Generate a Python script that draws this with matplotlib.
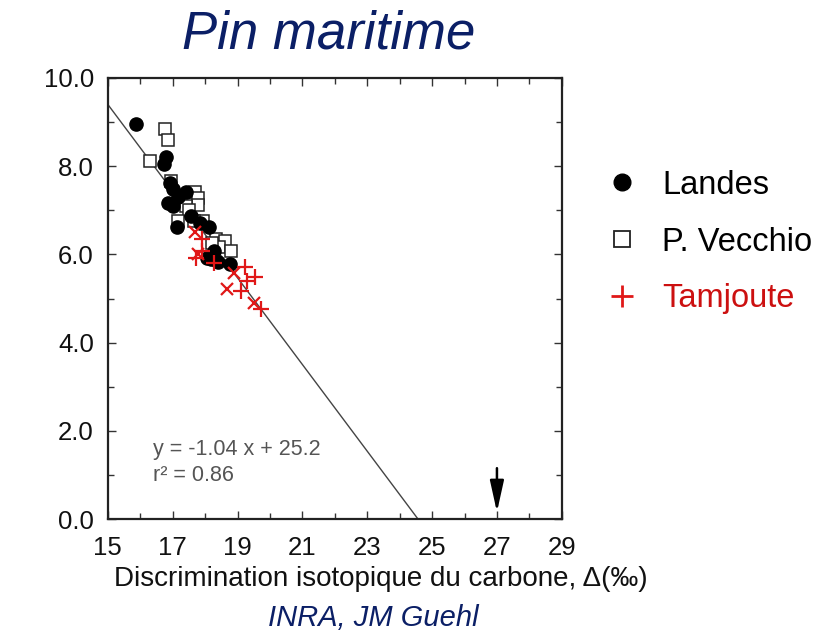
import matplotlib.pyplot as plt
from matplotlib.lines import Line2D
from matplotlib.ticker import MultipleLocator

# Landes (filled circles)
landes_x = [15.86, 16.78, 16.72, 16.91, 17.0, 16.87, 17.0, 17.17, 17.41, 17.14,
            17.56, 17.83, 18.11, 18.06, 18.17, 18.39, 18.78, 18.28]
landes_y = [8.96, 8.21, 8.05, 7.61, 7.49, 7.17, 7.09, 7.30, 7.42, 6.63,
            6.88, 6.72, 6.63, 5.93, 5.89, 5.84, 5.78, 6.09]

# P. Vecchio (open squares)
vecchio_x = [16.76, 16.86, 16.31, 16.94, 17.69, 17.78, 17.78, 17.41, 17.5, 17.17,
             17.94, 17.67, 18.33, 18.61, 18.44, 18.81, 18.22]
vecchio_y = [8.85, 8.60, 8.12, 7.67, 7.42, 7.28, 7.13, 7.09, 7.0, 6.76,
             6.77, 6.76, 6.34, 6.30, 6.17, 6.09, 6.26]

# Tamjoute (red + and x)
tam_plus_x = [17.89, 17.72, 18.28, 19.22, 19.53, 19.28, 19.11, 19.72, 17.89]
tam_plus_y = [6.34, 5.93, 5.80, 5.72, 5.49, 5.39, 5.18, 4.76, 6.09]
tam_cross_x = [17.7, 17.78, 18.89, 18.67, 19.5]
tam_cross_y = [6.5, 6.01, 5.59, 5.22, 4.89]

# regression line as drawn
fit_x = [15.0, 24.57]
fit_y = [9.4, 0.0]

arrow_x = 27.0
arrow_top, arrow_tip = 1.22, 0.1

navy = '#0b1f66'
red = '#e01818'

plt.rcParams['font.family'] = ['Liberation Sans', 'DejaVu Sans']

fig = plt.figure(figsize=(8.36, 6.34), dpi=100)
ax = fig.add_axes([0.129, 0.181, 0.543, 0.696])

ax.plot(fit_x, fit_y, color='#444444', lw=1.0, zorder=1)
ax.plot(vecchio_x, vecchio_y, 's', ms=9, mfc='white', mec='#222222', mew=1.1, ls='none', zorder=2)
ax.plot(landes_x, landes_y, 'o', ms=9.5, color='black', ls='none', zorder=3)
ax.plot(tam_plus_x, tam_plus_y, '+', ms=12, mew=1.6, color=red, ls='none', zorder=4)
ax.plot(tam_cross_x, tam_cross_y, 'x', ms=8.5, mew=1.6, color=red, ls='none', zorder=4)

ax.annotate('', xy=(arrow_x, arrow_tip), xytext=(arrow_x, arrow_top),
            arrowprops=dict(arrowstyle='-|>,head_length=1.9,head_width=0.42',
                            color='black', lw=1.8))

ax.text(16.39, 1.59, 'y = -1.04 x + 25.2', fontsize=15.5, color='#555555', va='center')
ax.text(16.39, 1.0, 'r² = 0.86', fontsize=15.5, color='#555555', va='center')

ax.set_xlim(15, 29)
ax.set_ylim(0, 10)
ax.xaxis.set_minor_locator(MultipleLocator(1))
ax.yaxis.set_minor_locator(MultipleLocator(1))
ax.set_yticks([0, 2, 4, 6, 8, 10])
ax.set_yticklabels(['0.0', '2.0', '4.0', '6.0', '8.0', '10.0'])
ax.set_xticks([15, 17, 19, 21, 23, 25, 27, 29])

ax.tick_params(which='both', direction='in', top=True, right=True, color='#333333')
ax.tick_params(which='major', length=6, width=1)
ax.tick_params(which='minor', length=4, width=1)
ax.tick_params(axis='x', which='major', pad=12, labelsize=18.5, labelcolor='#111111')
ax.tick_params(axis='y', which='major', pad=10, labelsize=18.5, labelcolor='#111111')
for s in ax.spines.values():
    s.set_linewidth(1.6)
    s.set_color('#222222')

ax.set_xlabel('Discrimination isotopique du carbone, Δ(‰)', fontsize=20, color='#111111')
ax.xaxis.set_label_coords(0.601, -0.105)
ax.xaxis.label.set_va('top')

fig.text(0.393, 0.945, 'Pin maritime', fontsize=38, style='italic', color=navy,
         ha='center', va='center')
fig.text(0.446, 0.025, 'INRA, JM Guehl', fontsize=21, style='italic', color=navy,
         ha='center', va='center')

handles = [
    Line2D([], [], marker='o', ms=12, color='black', ls='none'),
    Line2D([], [], marker='s', ms=11, mfc='white', mec='#222222', mew=1.3, ls='none'),
    Line2D([], [], marker='+', ms=16, mew=2, color=red, ls='none'),
]
leg = fig.legend(handles, ['Landes', 'P. Vecchio', 'Tamjoute'], loc='upper left',
                 bbox_to_anchor=(0.726, 0.732), frameon=False, fontsize=23.5,
                 handlelength=0.95, handletextpad=0.75, labelspacing=0.79,
                 borderpad=0, borderaxespad=0)
leg.get_texts()[2].set_color('#cc1010')

fig.savefig('out.png', dpi=100)
